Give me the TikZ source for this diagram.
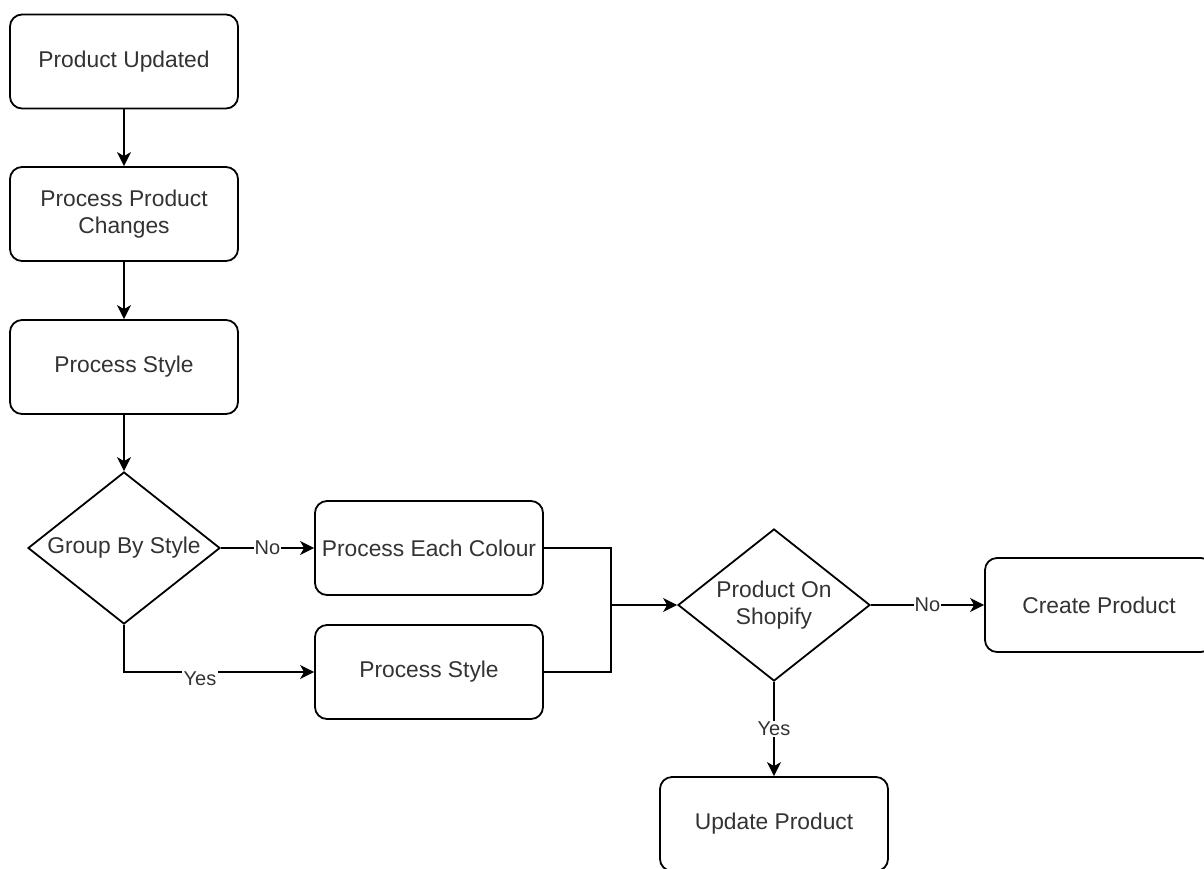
\documentclass[tikz,border=0pt]{standalone}
\usepackage{fontspec}
\setmainfont{Liberation Sans}
\usetikzlibrary{shapes.geometric,arrows.meta}
\definecolor{txt}{HTML}{333333}
\begin{document}
\begin{tikzpicture}[x=0.5pt,y=-0.5pt,
  box/.style={draw=black,line width=0.9pt,rounded corners=6pt,fill=white,
    minimum width=114pt,minimum height=47pt,inner sep=2pt,align=center,
    text=txt,font=\fontsize{11.4}{13.5}\selectfont},
  dec/.style={draw=black,line width=0.9pt,diamond,fill=white,inner sep=-6pt,
    minimum width=96pt,minimum height=76pt,align=center,
    text=txt,font=\fontsize{11.4}{13.5}\selectfont},
  conn/.style={line width=0.9pt,draw=black},
  arr/.style={conn,-{Stealth[length=7pt,width=7pt,inset=2pt]}},
  lbl/.style={fill=white,inner sep=0.6pt,text=txt,font=\fontsize{10}{12}\selectfont}]
\path[use as bounding box,clip] (0,0) rectangle (1204,868);
\fill[white] (0,0) rectangle (1204,868);

\node[box] (pu)  at (124,61.5) {Product Updated};
\node[box] (ppc) at (124,214) {Process Product\\Changes};
\node[box] (ps1) at (124,367) {Process Style};
\node[dec] (gbs) at (124,548) {Group By Style};
\node[box] (pec) at (429,548) {Process Each Colour};
\node[box] (ps2) at (429,672) {Process Style};
\node[dec] (pos) at (774,605) {Product On\\Shopify};
\node[box] (cp)  at (1099,605) {Create Product};
\node[box] (up)  at (774,824) {Update Product};
\coordinate (j) at (611,605);

\draw[arr] (pu.south) -- (ppc.north);
\draw[arr] (ppc.south) -- (ps1.north);
\draw[arr] (ps1.south) -- (gbs.north);
\draw[arr] (gbs.east) -- node[lbl] {No} (pec.west);
\draw[arr] (gbs.south) |- (ps2.west);
\node[lbl] (yes1) at (200,679) {Yes};
\draw[conn] (pec.east) -| (j);
\draw[conn] (ps2.east) -| (j);
\draw[arr] (j) -- (pos.west);
\draw[arr] (pos.east) -- node[lbl] {No} (cp.west);
\draw[arr] (pos.south) -- node[lbl] {Yes} (up.north);
\end{tikzpicture}
\end{document}
